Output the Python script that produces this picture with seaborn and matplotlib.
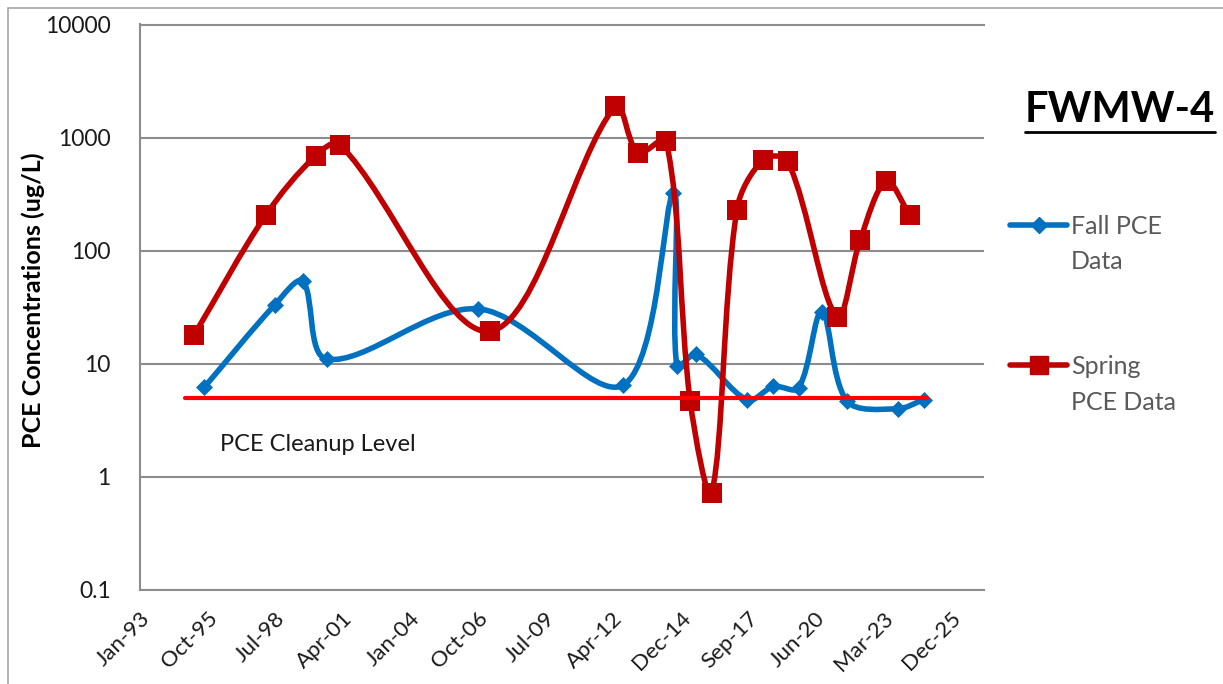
import matplotlib
matplotlib.use('Agg')
import matplotlib.pyplot as plt
import matplotlib.dates as mdates
from matplotlib.path import Path
from matplotlib.patches import PathPatch, Rectangle
from matplotlib.lines import Line2D
from matplotlib.ticker import NullLocator
import numpy as np
import pandas as pd
import seaborn as sns

# Fall sampling events (diamonds)
fall_dates = ['1995-09-10', '1998-07-24', '1999-09-07', '2000-08-28', '2006-10-22',
              '2012-09-08', '2014-09-19', '2014-11-08', '2015-08-21', '2017-09-19',
              '2018-10-09', '2019-10-15', '2020-09-25', '2021-09-30', '2023-10-20',
              '2024-11-09']
fall_pce = [6.2, 33.4, 53.7, 11.0, 30.6, 6.5, 324, 9.5, 12.1, 4.8,
            6.3, 6.1, 29, 4.7, 4.0, 4.8]

# Spring sampling events (squares)
spring_dates = ['1995-04-15', '1998-03-13', '2000-03-18', '2001-03-13', '2007-04-13',
                '2012-05-08', '2013-04-09', '2014-06-03', '2015-05-24', '2016-04-08',
                '2017-04-15', '2018-05-14', '2019-05-10', '2021-05-05', '2022-04-16',
                '2023-05-06', '2024-04-16']
spring_pce = [18.1, 208, 693, 867, 19.4, 1890, 732, 940, 4.7, 0.72,
              231, 640, 618, 26, 125, 411, 208]

cleanup_dates = ['1994-11-29', '2025-01-02']
cleanup_level = [5, 5]

axis_start = pd.Timestamp('1993-01-31')
tick_step_days = 1000
n_ticks = 13
y_ticks = [0.1, 1, 10, 100, 1000, 10000]
y_tick_labels = ['0.1', '1', '10', '100', '1000', '10000']
legend_labels = [['Fall PCE', 'Data'], ['Spring', 'PCE Data']]

BLUE = '#0070C0'
DARK_RED = '#C00000'
RED = '#FF0000'
GRID = '#8c8c8c'
TEXT = '#1a1a1a'

sns.set_style('white')
plt.rcParams['font.family'] = ['Lato', 'DejaVu Sans']

W, H = 1223, 684
fig = plt.figure(figsize=(W / 100, H / 100), dpi=100)
ax = fig.add_axes([140 / W, 1 - 590 / H, (984 - 140) / W, (590 - 24.5) / H])

fall_x = pd.to_datetime(fall_dates)
spring_x = pd.to_datetime(spring_dates)

ax.set_yscale('log')
ax.set_ylim(0.1, 10000)
ax.set_xlim(axis_start, axis_start + pd.Timedelta(days=12.5 * tick_step_days))


def smooth_path(ax, xs, ys):
    # Excel-like smoothed line: cubic bezier through every point, built in pixel space
    pts = ax.transData.transform(np.column_stack([xs, ys]))
    n = len(pts)
    verts = [pts[0]]
    codes = [Path.MOVETO]
    for i in range(n - 1):
        a, b = pts[i], pts[i + 1]
        p = pts[i - 1] if i > 0 else a
        q = pts[i + 2] if i + 2 < n else b
        d0 = np.hypot(*(a - p))
        d1 = np.hypot(*(b - a))
        d2 = np.hypot(*(q - b))
        c1 = a + (b - p) * d1 / (3 * (d0 + d1))
        c2 = b - (q - a) * d1 / (3 * (d1 + d2))
        verts += [c1, c2, b]
        codes += [Path.CURVE4] * 3
    verts = ax.transData.inverted().transform(np.array(verts))
    return Path(verts, codes)


ax.add_patch(PathPatch(smooth_path(ax, mdates.date2num(fall_x), fall_pce),
                       fill=False, ec=BLUE, lw=4, capstyle='round', joinstyle='round', zorder=2))
sns.scatterplot(x=fall_x, y=fall_pce, marker='D', s=75, color=BLUE, linewidth=0,
                ax=ax, zorder=3)
ax.add_patch(PathPatch(smooth_path(ax, mdates.date2num(spring_x), spring_pce),
                       fill=False, ec=DARK_RED, lw=4, capstyle='round', joinstyle='round', zorder=4))
sns.scatterplot(x=spring_x, y=spring_pce, marker='s', s=200, color=DARK_RED, linewidth=0,
                ax=ax, zorder=5)
sns.lineplot(x=pd.to_datetime(cleanup_dates), y=cleanup_level, color=RED, lw=3,
             ax=ax, zorder=6)

ax.set_ylim(0.1, 10000)
ax.set_xlim(axis_start, axis_start + pd.Timedelta(days=12.5 * tick_step_days))
ax.yaxis.set_minor_locator(NullLocator())
ax.set_yticks(y_ticks)
ax.set_yticklabels(y_tick_labels)
ticks = [axis_start + pd.Timedelta(days=k * tick_step_days) for k in range(n_ticks)]
ax.set_xticks(ticks)
ax.set_xticklabels([t.strftime('%b-%y') for t in ticks], rotation=45,
                   ha='right', va='top', rotation_mode='anchor')
ax.tick_params(axis='y', length=0, pad=21, labelsize=16.5, labelcolor=TEXT)
ax.tick_params(axis='x', length=0, pad=13, labelsize=16, labelcolor=TEXT)
ax.grid(axis='y', color=GRID, lw=1.5)
ax.grid(axis='x', visible=False)
for side in ['left', 'bottom', 'top']:
    ax.spines[side].set_color(GRID)
    ax.spines[side].set_linewidth(1.5)
ax.spines['right'].set_visible(False)
ax.set_xlabel('')
ax.set_ylabel('')

ax.text(pd.Timestamp('1996-04-30'), 1.93, 'PCE Cleanup Level', fontsize=17,
        va='center', ha='left', color=TEXT)

fig.text(33 / W, 1 - 300 / H, 'PCE Concentrations (ug/L)', rotation=90, ha='center',
         va='center', fontsize=18, weight='bold', color='black')

# legend drawn by hand so the handle sits on the first text line
for (color, marker, msize), lines, y in zip([(BLUE, 'D', 8), (DARK_RED, 's', 13)],
                                            legend_labels, [225, 365]):
    fig.add_artist(Line2D([1010 / W, 1067 / W], [1 - y / H, 1 - y / H],
                          transform=fig.transFigure, color=color, lw=4,
                          solid_capstyle='round'))
    fig.add_artist(Line2D([1038.5 / W], [1 - y / H], transform=fig.transFigure,
                          color=color, marker=marker, markersize=msize, lw=0))
    for k, line in enumerate(lines):
        fig.text(1071 / W, 1 - (y + 35 * k) / H, line, ha='left', va='center_baseline',
                 fontsize=18, color='#595959')

title = fig.text(1215 / W, 1 - 110 / H, 'FWMW-4', ha='right', va='center',
                 fontsize=30, weight='bold', color='black')
fig.canvas.draw()
bb = title.get_window_extent()
fig.add_artist(Line2D([bb.x0 / W, bb.x1 / W], [(bb.y0 - 3) / H, (bb.y0 - 3) / H],
                      transform=fig.transFigure, color='black', lw=2))

fig.add_artist(Rectangle((8 / W, -0.05), 1.1, 1.05 - 8 / H, transform=fig.transFigure,
                         fill=False, ec='#a6a6a6', lw=1.2))

fig.savefig('out.png', dpi=100)
